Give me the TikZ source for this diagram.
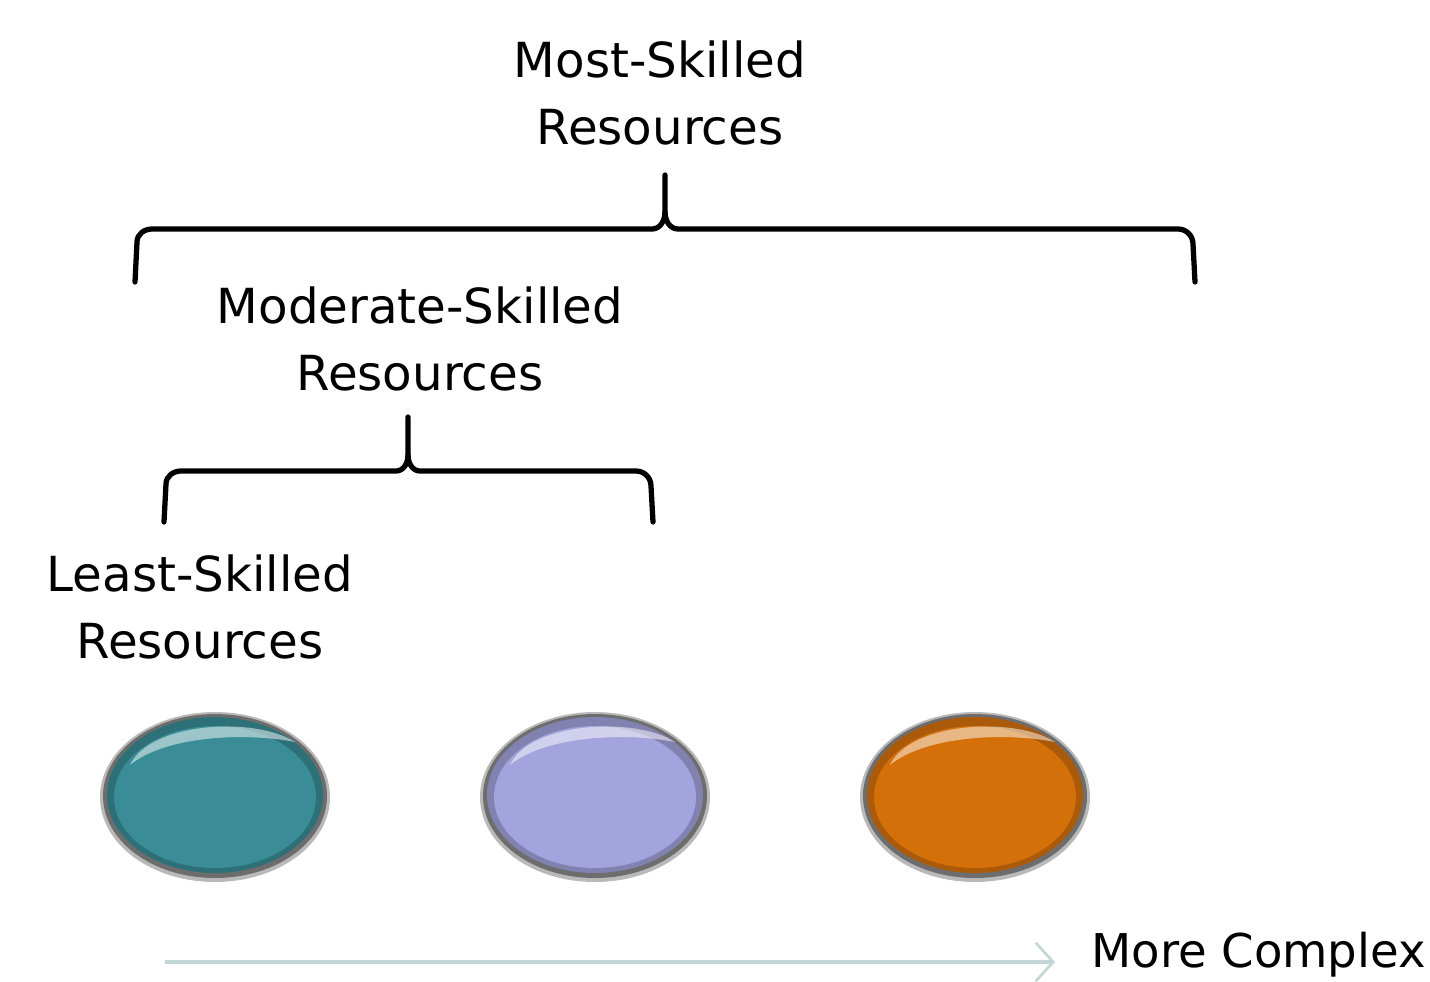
\documentclass[tikz,border=0pt]{standalone}
\usepackage{fontspec}
\setmainfont{DejaVu Sans}
\usetikzlibrary{arrows.meta}
\definecolor{tealball}{HTML}{3A8C96}
\definecolor{lilacball}{HTML}{A3A3DD}
\definecolor{orangeball}{HTML}{D4700A}
\definecolor{axisgray}{HTML}{C3D6D6}
\tikzset{
    label/.style = {align=center, font=\fontsize{27.5}{38.5}\selectfont},
    brace/.style = {line width=3pt, line cap=round}
}
\begin{document}
\begin{tikzpicture}[x=0.02cm, y=-0.02cm]
    \useasboundingbox (0,0) rectangle (1430,981);
    \node[label] (most) at (660,93) {Most-Skilled\\Resources};
    \node[label] (moderate) at (420,339) {Moderate-Skilled\\Resources};
    \node[label] (least) at (200,607) {Least-Skilled\\Resources};
    % the three balls
    \foreach \name/\col/\x in {least/tealball/215, moderate/lilacball/595, most/orangeball/975} {
        \fill[black!55, opacity=0.5] (\x,797) ellipse (115 and 85);
        \fill[black!60, opacity=0.9] (\x,796) ellipse (112 and 82);
        \fill[\col!80!black] (\x,795) ellipse (108 and 78);
        \fill[\col] (\x,797) ellipse (101 and 71);
        \fill[white, opacity=0.5] (\x-85,765) .. controls (\x-65,722) and (\x+40,716) .. (\x+80,742)
            .. controls (\x+30,732) and (\x-50,736) .. (\x-85,765);
        \coordinate (ball-\name) at (\x,795);
    }
    % braces
    \coordinate (top-l) at (135,282);
    \coordinate (top-r) at (1195,282);
    \coordinate (top-m) at (665,175);
    \draw[brace] (top-l) -- (137,242) to[out=90,in=180] (152,229) -- (652,229)
        to[out=0,in=-90] (665,212) -- (top-m);
    \draw[brace] (665,212) to[out=-90,in=180] (678,229) -- (1178,229)
        to[out=0,in=90] (1193,244) -- (top-r);
    \coordinate (mid-l) at (164,522);
    \coordinate (mid-r) at (653,522);
    \coordinate (mid-m) at (408,417);
    \draw[brace] (mid-l) -- (166,484) to[out=90,in=180] (181,471) -- (396,471)
        to[out=0,in=-90] (408,455) -- (mid-m);
    \draw[brace] (408,455) to[out=-90,in=180] (420,471) -- (636,471)
        to[out=0,in=90] (651,486) -- (mid-r);
    % axis
    \node[label, font=\fontsize{26.5}{36}\selectfont, anchor=east, inner sep=1pt] (complex) at (1428,955) {More Complex};
    \coordinate (axis-start) at (165,962);
    \coordinate (axis-end) at (1055,962);
    \draw[axisgray, line width=2pt, -{Straight Barb[length=10pt, width=22pt, line width=1.5pt]}]
        (axis-start) -- (axis-end);
\end{tikzpicture}
\end{document}
